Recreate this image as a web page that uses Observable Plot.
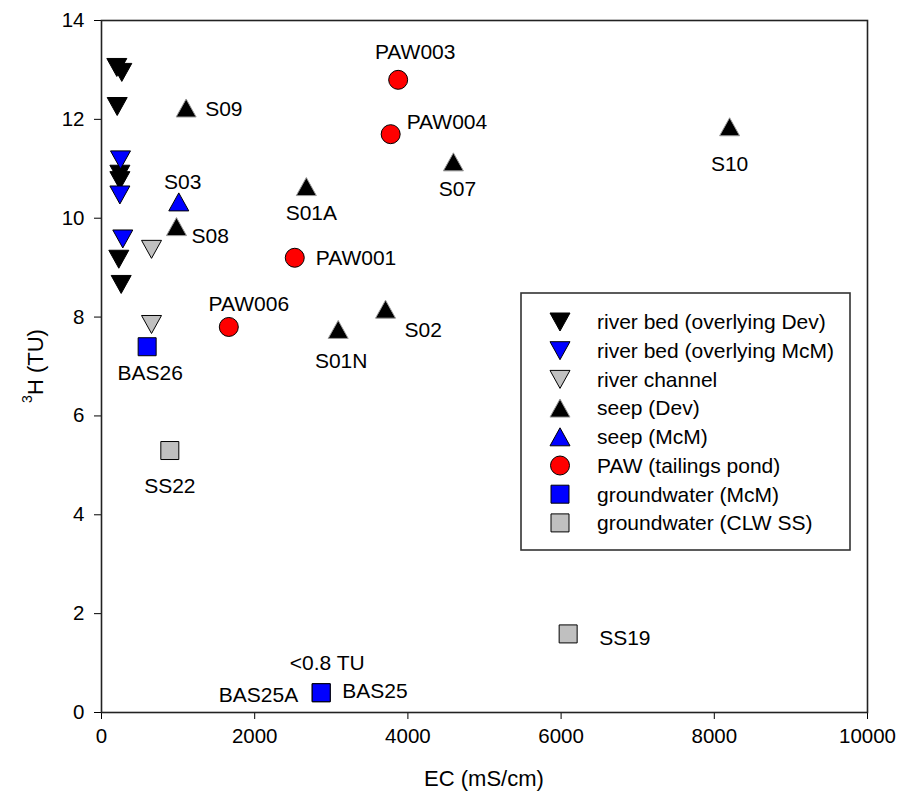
<!DOCTYPE html>
<html>
<head>
<meta charset="utf-8">
<script src="https://cdn.jsdelivr.net/npm/d3@7"></script>
<script src="https://cdn.jsdelivr.net/npm/@observablehq/plot@0.6"></script>
<style>
  html, body { margin: 0; padding: 0; background: #fff; }
  #chart { position: relative; width: 898px; height: 801px; }
</style>
</head>
<body>
<div id="chart"></div>
<script>
// ---------------- data ----------------
const xTicks = [0, 2000, 4000, 6000, 8000, 10000];
const yTicks = [0, 2, 4, 6, 8, 10, 12, 14];

const groupNames = [
  "river bed (overlying Dev)",
  "river bed (overlying McM)",
  "river channel",
  "seep (Dev)",
  "seep (McM)",
  "PAW (tailings pond)",
  "groundwater (McM)",
  "groundwater (CLW SS)"
];

// river bed (overlying Dev)
const rbDevEC = [200, 265, 205, 240, 240, 226, 257];
const rbDevH3 = [13.05, 12.95, 12.26, 10.89, 10.76, 9.17, 8.66];
// river bed (overlying McM)
const rbMcmEC = [248, 240, 278];
const rbMcmH3 = [11.18, 10.47, 9.58];
// river channel
const chanEC = [653, 653];
const chanH3 = [9.37, 7.85];
// seep (Dev)
const seepDevName = ["S09", "S08", "S01A", "S07", "S10", "S02", "S01N"];
const seepDevEC = [1105, 979, 2674, 4594, 8200, 3708, 3090];
const seepDevH3 = [12.23, 9.83, 10.64, 11.14, 11.85, 8.16, 7.75];
// seep (McM)
const seepMcmName = ["S03"];
const seepMcmEC = [1009];
const seepMcmH3 = [10.33];
// PAW (tailings pond)
const pawName = ["PAW003", "PAW004", "PAW001", "PAW006"];
const pawEC = [3873, 3775, 2523, 1662];
const pawH3 = [12.8, 11.7, 9.2, 7.8];
// groundwater (McM)
const gwMcmName = ["BAS26", "BAS25", "BAS25A"];
const gwMcmEC = [596, 2868, 2868];
const gwMcmH3 = [7.4, 0.4, 0.4];
// groundwater (CLW SS)
const gwClwName = ["SS22", "SS19"];
const gwClwEC = [892, 6092];
const gwClwH3 = [5.3, 1.59];

// annotation
const noteText = "<0.8 TU";
const noteSite = "BAS25";

// label placement (style only)
const labelSite   = ["S09","S08","S01A","S07","S10","S02","S01N","S03","PAW003","PAW004","PAW001","PAW006","BAS26","BAS25","BAS25A","SS22","SS19"];
const labelDx     = [19, 15, 5, 4, 0, 19, 3, 4, 17, 16, 21, 20, 3, 21, -23, 0, 31];
const labelDy     = [1, 10, 27, 27, 37, 21, 32, -20, -28, -12, 1, -23, 27, -1, 3, 36, 4];
const labelAnchor = ["start","start","middle","middle","middle","start","middle","middle","middle","start","start","middle","middle","start","end","middle","start"];

// ---------------- symbols ----------------
function poly(pts) {
  return { draw(ctx, size) {
    const r = Math.sqrt(size / Math.PI);
    ctx.moveTo(pts[0][0] * r, pts[0][1] * r);
    for (let i = 1; i < pts.length; i++) ctx.lineTo(pts[i][0] * r, pts[i][1] * r);
    ctx.closePath();
  }};
}
const triDown = poly([[-1, -0.9], [1, -0.9], [0, 0.9]]);
const triUp = poly([[-1, 0.9], [1, 0.9], [0, -0.9]]);
const square = poly([[-0.9, -0.9], [0.9, -0.9], [0.9, 0.9], [-0.9, 0.9]]);
const circle = { draw(ctx, size) {
  const r = Math.sqrt(size / Math.PI) * 0.95;
  ctx.moveTo(r, 0); ctx.arc(0, 0, r, 0, 2 * Math.PI); ctx.closePath();
}};

const groupSymbol = [triDown, triDown, triDown, triUp, triUp, circle, square, square];
const groupFill = ["#000000", "#0000ff", "#c0c0c0", "#000000", "#0000ff", "#ff0000", "#0000ff", "#c0c0c0"];
const groupStroke = ["#000000", "#000000", "#000000", "#9a9a9a", "#000000", "#000000", "#000000", "#000000"];

const groupEC = [rbDevEC, rbMcmEC, chanEC, seepDevEC, seepMcmEC, pawEC, gwMcmEC, gwClwEC];
const groupH3 = [rbDevH3, rbMcmH3, chanH3, seepDevH3, seepMcmH3, pawH3, gwMcmH3, gwClwH3];
const groupSite = [null, null, null, seepDevName, seepMcmName, pawName, gwMcmName, gwClwName];

// build rows
const rows = [];
groupNames.forEach((g, gi) => {
  groupEC[gi].forEach((ec, i) => {
    rows.push({ group: g, gi, ec, h3: groupH3[gi][i], site: groupSite[gi] ? groupSite[gi][i] : null });
  });
});
const siteRow = new Map(rows.filter(d => d.site).map(d => [d.site, d]));

// ---------------- plot ----------------
const FONT = "'Liberation Sans', Arial, Helvetica, sans-serif";
const marks = [];
groupNames.forEach((g, gi) => {
  marks.push(Plot.dot(rows.filter(d => d.gi === gi), {
    x: "ec", y: "h3", r: 10,
    symbol: groupSymbol[gi], fill: groupFill[gi], stroke: groupStroke[gi], strokeWidth: 1
  }));
});
labelSite.forEach((s, i) => {
  const d = siteRow.get(s);
  marks.push(Plot.text([d], {
    x: "ec", y: "h3", text: () => s, dx: labelDx[i], dy: labelDy[i],
    textAnchor: labelAnchor[i], fontSize: 21, fill: "#000"
  }));
});
marks.push(Plot.text([siteRow.get(noteSite)], {
  x: "ec", y: "h3", text: () => noteText, dx: 6, dy: -29, textAnchor: "middle", fontSize: 21, fill: "#000"
}));
marks.push(Plot.frame({ stroke: "#222", strokeWidth: 1.6 }));

const chart = Plot.plot({
  width: 898, height: 801,
  marginLeft: 101, marginRight: 31, marginTop: 20, marginBottom: 89,
  style: { fontFamily: FONT, fontSize: "20.5px", background: "#fff", color: "#000" },
  x: { domain: [0, 10000], ticks: xTicks, tickSize: 7, tickPadding: 9, tickFormat: d => String(d), label: null },
  y: { domain: [0, 14], ticks: yTicks, tickSize: 7, tickPadding: 10, tickFormat: d => String(d), label: null },
  marks
});
document.getElementById("chart").appendChild(chart);

// ---------------- titles & legend ----------------
const svg = d3.select(chart);
svg.append("text")
  .attr("x", 484).attr("y", 778).attr("dy", "0.35em")
  .attr("text-anchor", "middle").attr("font-size", 22).attr("font-family", FONT).attr("fill", "#000")
  .text("EC (mS/cm)");

const yt = svg.append("text")
  .attr("transform", "translate(39,366) rotate(-90)")
  .attr("text-anchor", "middle").attr("font-size", 22).attr("font-family", FONT).attr("fill", "#000");
yt.append("tspan").attr("font-size", 14).attr("dy", "-0.5em").text("3");
yt.append("tspan").attr("dy", "0.5em").text("H (TU)");

const lg = svg.append("g").attr("transform", "translate(521,293)");
lg.append("rect").attr("width", 329).attr("height", 257)
  .attr("fill", "#fff").attr("stroke", "#333").attr("stroke-width", 1.6);
groupNames.forEach((g, gi) => {
  const cy = 29 + gi * 28.7;
  lg.append("path")
    .attr("transform", `translate(39,${cy})`)
    .attr("d", d3.symbol(groupSymbol[gi], 100 * Math.PI)())
    .attr("fill", groupFill[gi]).attr("stroke", groupStroke[gi]).attr("stroke-width", 1);
  lg.append("text")
    .attr("x", 76).attr("y", cy).attr("dy", "0.35em")
    .attr("text-anchor", "start")
    .attr("font-size", 21).attr("font-family", FONT).attr("fill", "#000")
    .text(g);
});
</script>
</body>
</html>
